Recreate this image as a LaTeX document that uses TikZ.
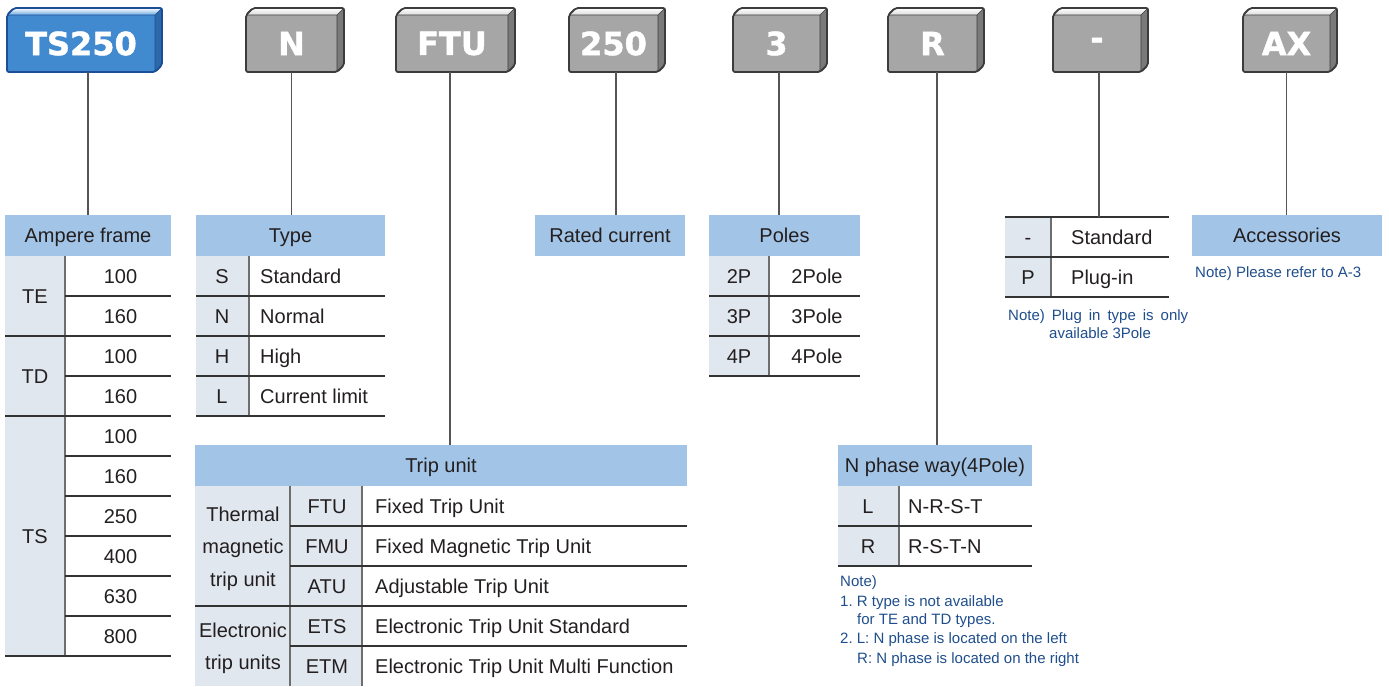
\documentclass[tikz,border=0pt]{standalone}
\usepackage{fontspec}
\setmainfont{Liberation Sans}
\newfontfamily\keyfont{DejaVu Sans}[BoldFeatures={FakeBold=1.3}]
\newcommand\tbfont{\fontsize{20}{24}\selectfont}
\newcommand\ntfont{\fontsize{15}{19}\selectfont}
\frenchspacing
\definecolor{hblue}{HTML}{A2C4E6}
\definecolor{cgray}{HTML}{E1E7EF}
\definecolor{txt}{HTML}{231F20}
\definecolor{nblue}{HTML}{1F4E8C}
\definecolor{rule}{HTML}{333333}
\definecolor{vgray}{HTML}{6E6E6E}
\definecolor{lgray}{HTML}{555555}
\definecolor{gfront}{HTML}{A6A6A6}
\definecolor{gtop}{HTML}{DADADA}
\definecolor{gside}{HTML}{7A7A7A}
\definecolor{gborder}{HTML}{3C3C3C}
\definecolor{bfront}{HTML}{418AD0}
\definecolor{btop}{HTML}{6CA8DF}
\definecolor{bside}{HTML}{2D68A8}
\definecolor{bborder}{HTML}{1A4E96}
\tikzset{
  keyfront/.style={inner sep=0, outer sep=0, anchor=north west, minimum height=57,
    text=white, font=\keyfont\bfseries\fontsize{32}{36}\selectfont},
  hdr/.style={fill=hblue, inner sep=0, outer sep=0, anchor=north west, minimum height=41,
    text height=14.5pt, text depth=0pt, font=\tbfont, text=txt},
  cell/.style={inner sep=0, text height=14.5pt, text depth=0pt, font=\tbfont, text=txt},
  lcell/.style={cell, anchor=west},
  mcell/.style={inner sep=0, align=center, font=\fontsize{20}{32.5}\selectfont, text=txt},
  note/.style={inner sep=0, anchor=west, text height=10.8pt, text depth=0pt, font=\ntfont, text=nblue},
  grid/.style={draw=rule, line width=1.2},
  vdiv/.style={draw=vgray, line width=1.2},
  link/.style={draw=lgray, line width=1.1},
}
% #1 name, #2 x, #3 width, #4 text, #5 front, #6 top, #7 side, #8 border
\newcommand\keybox[8]{%
  \node[keyfront, fill=#5, minimum width=#3] (#1) at (#2,15) {#4};
  \shade[top color=white, bottom color=#6] (#1.north west) -- ++(7,-7) -- ([shift={(7,-7)}]#1.north east) -- (#1.north east) -- cycle;
  \fill[#7] (#1.north east) -- ++(7,-7) -- ([shift={(7,-7)}]#1.south east) -- (#1.south east) -- cycle;
  \draw[#8, line width=0.6] (#1.north west) -- (#1.north east) -- ++(7,-7) (#1.north east) -- (#1.south east);
  \draw[#8, line width=1.8, rounded corners=2, line join=round] (#1.south west) -- (#1.north west) -- ++(7,-7)
     -- ([shift={(7,-7)}]#1.north east) -- ([shift={(7,-7)}]#1.south east) -- (#1.south east) -- cycle;
}
\begin{document}
\begin{tikzpicture}[x=1pt,y=-1pt]
\useasboundingbox (0,0) rectangle (1389,686);

% ---------- key boxes ----------
\keybox{kts}{7}{148}{TS250}{bfront}{btop}{bside}{bborder}
\keybox{kn}{246}{91}{N}{gfront}{gtop}{gside}{gborder}
\keybox{kftu}{396}{112}{FTU}{gfront}{gtop}{gside}{gborder}
\keybox{krc}{569}{89}{250}{gfront}{gtop}{gside}{gborder}
\keybox{kp}{733}{87}{3}{gfront}{gtop}{gside}{gborder}
\keybox{kr}{888}{89}{R}{gfront}{gtop}{gside}{gborder}
\keybox{kd}{1053}{88}{-}{gfront}{gtop}{gside}{gborder}
\keybox{kax}{1243}{87}{AX}{gfront}{gtop}{gside}{gborder}

% ---------- Ampere frame ----------
\fill[cgray] (5,256) rectangle (65,656);
\node[hdr, minimum width=166] (hamp) at (5,215) {Ampere frame};
\draw[vdiv] (65,256) -- (65,656);
\foreach \y in {296,376,456,496,536,576,616} \draw[grid] (65,\y) -- (171,\y);
\foreach \y in {336,416,656} \draw[grid] (5,\y) -- (171,\y);
\node[cell] (ate) at (35,296.5) {TE};
\node[cell] (atd) at (35,376.5) {TD};
\node[cell] (ats) at (35,536.5) {TS};
\foreach \v [count=\i] in {100,160,100,160,100,160,250,400,630,800}
  \node[cell] (av\i) at (120.5,236.5+40*\i) {\v};

% ---------- Type ----------
\fill[cgray] (196,256) rectangle (249,416);
\node[hdr, minimum width=189] (htype) at (196,215) {Type};
\draw[vdiv] (249,256) -- (249,416);
\foreach \y in {296,336,376,416} \draw[grid] (196,\y) -- (385,\y);
\foreach \c/\t [count=\i] in {S/Standard,N/Normal,H/High,L/Current limit}{
  \node[cell] (tc\i) at (222,236.5+40*\i) {\c};
  \node[lcell] (tt\i) at (260,236.5+40*\i) {\t};
}

% ---------- Rated current ----------
\node[hdr, minimum width=150] (hrc) at (535,215) {Rated current};

% ---------- Poles ----------
\fill[cgray] (709,256) rectangle (769,376);
\node[hdr, minimum width=151] (hpol) at (709,215) {Poles};
\draw[vdiv] (769,256) -- (769,376);
\foreach \y in {296,336,376} \draw[grid] (709,\y) -- (860,\y);
\foreach \c/\t [count=\i] in {2P/2Pole,3P/3Pole,4P/4Pole}{
  \node[cell] (pc\i) at (739,236.5+40*\i) {\c};
  \node[cell] (pt\i) at (817,236.5+40*\i) {\t};
}

% ---------- Plug-in ----------
\coordinate (plugtop) at (1099,217);
\fill[cgray] (1005,217) rectangle (1051,297);
\draw[vdiv] (1051,217) -- (1051,297);
\foreach \y in {217,257,297} \draw[grid] (1005,\y) -- (1169,\y);
\node[cell] (gc1) at (1028,237.5) {-};
\node[lcell] (gt1) at (1071,237.5) {Standard};
\node[cell] (gc2) at (1028,277.5) {P};
\node[lcell] (gt2) at (1071,277.5) {Plug-in};
\node[note] (gn1) at (1008,315) {\makebox[180pt][s]{Note) Plug in type is only}};
\node[note] (gn2) at (1049,333) {available 3Pole};

% ---------- Accessories ----------
\node[hdr, minimum width=190] (hacc) at (1192,215) {Accessories};
\node[note] (acn) at (1195,272) {Note) Please refer to A-3};

% ---------- Trip unit ----------
\fill[cgray] (195,486) rectangle (362,686);
\node[hdr, minimum width=492] (htrip) at (195,445) {Trip unit};
\draw[vdiv] (290,486) -- (290,686) (362,486) -- (362,686);
\foreach \y in {526,566,646} \draw[grid] (290,\y) -- (687,\y);
\draw[grid] (195,606) -- (687,606);
\node[mcell] (tm) at (243,548.5) {Thermal\\magnetic\\trip unit};
\node[mcell] (te) at (243,648.5) {Electronic\\trip units};
\foreach \c/\t [count=\i] in {FTU/Fixed Trip Unit,FMU/Fixed Magnetic Trip Unit,ATU/Adjustable Trip Unit,ETS/Electronic Trip Unit Standard,ETM/Electronic Trip Unit Multi Function}{
  \node[cell] (uc\i) at (327,466.5+40*\i) {\c};
  \node[lcell] (ut\i) at (375,466.5+40*\i) {\t};
}

% ---------- N phase way ----------
\fill[cgray] (838,486) rectangle (899,566);
\node[hdr, minimum width=194] (hnp) at (838,445) {N phase way(4Pole)};
\draw[vdiv] (899,486) -- (899,566);
\foreach \y in {526,566} \draw[grid] (838,\y) -- (1032,\y);
\node[cell] (nc1) at (868,506.5) {L};
\node[lcell] (nt1) at (908,506.5) {N-R-S-T};
\node[cell] (nc2) at (868,546.5) {R};
\node[lcell] (nt2) at (908,546.5) {R-S-T-N};
\node[note] (nn0) at (840,581) {Note)};
\node[note] (nn1) at (840,601) {1. R type is not available};
\node[note] (nn2) at (857,619.5) {for TE and TD types.};
\node[note] (nn3) at (840,638.5) {2. L: N phase is located on the left};
\node[note] (nn4) at (857,658) {R: N phase is located on the right};

% ---------- connectors ----------
\draw[link] ([xshift=7]kts.south) -- ([xshift=7]kts.south |- hamp.north);
\draw[link] (kn.south) -- (kn.south |- htype.north);
\draw[link] ([xshift=-2]kftu.south) -- ([xshift=-2]kftu.south |- htrip.north);
\draw[link] ([xshift=2.5]krc.south) -- ([xshift=2.5]krc.south |- hrc.north);
\draw[link] ([xshift=2.5]kp.south) -- ([xshift=2.5]kp.south |- hpol.north);
\draw[link] ([xshift=4.5]kr.south) -- ([xshift=4.5]kr.south |- hnp.north);
\draw[link] (kd.south -| plugtop) -- (plugtop);
\draw[link] (kax.south) -- (kax.south |- hacc.north);
\end{tikzpicture}
\end{document}
